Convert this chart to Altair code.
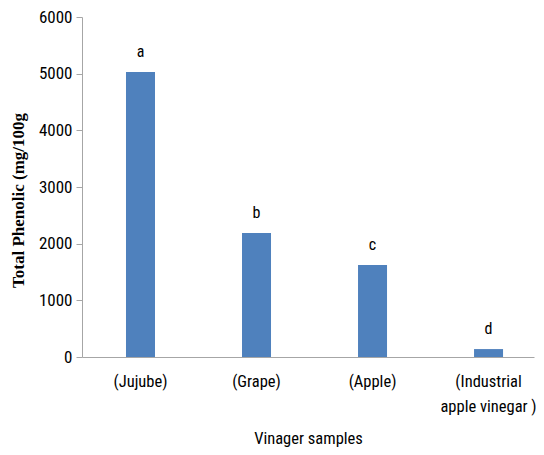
import altair as alt
import pandas as pd

samples = ["(Jujube)", "(Grape)", "(Apple)", "(Industrial apple vinegar )"]
phenolic = [5030, 2190, 1625, 140]
letters = ["a", "b", "c", "d"]

df = pd.DataFrame({"sample": samples, "value": phenolic, "letter": letters})

SANS = "Liberation Sans Narrow, Roboto Condensed, Open Sans, sans-serif"

x = alt.X(
    "sample:N",
    sort=samples,
    scale=alt.Scale(paddingInner=0.75, paddingOuter=0.323, align=0.587),
    axis=alt.Axis(
        title="Vinager samples",
        labelAngle=0,
        ticks=False,
        grid=False,
        domainColor="#A6A6A6",
        labelFont=SANS,
        labelFontSize=16.5,
        labelFontWeight="normal",
        labelColor="#000000",
        labelPadding=16,
        labelLineHeight=25,
        labelExpr="datum.label == '(Industrial apple vinegar )' ? ['(Industrial', 'apple vinegar )'] : datum.label",
        titleFont=SANS,
        titleFontSize=16.5,
        titleFontWeight="normal",
        titleColor="#000000",
        titleY=81,
        titleBaseline="middle",
    ),
)

y = alt.Y(
    "value:Q",
    scale=alt.Scale(domain=[0, 6000]),
    axis=alt.Axis(
        title="Total Phenolic (mg/100g",
        values=[0, 1000, 2000, 3000, 4000, 5000, 6000],
        format="d",
        grid=False,
        domainColor="#A6A6A6",
        tickColor="#A6A6A6",
        tickSize=6,
        labelFont=SANS,
        labelFontSize=17,
        labelColor="#000000",
        labelPadding=4,
        titleFont="Liberation Serif, Times New Roman, serif",
        titleFontSize=17,
        titleFontWeight="bold",
        titleColor="#000000",
        titleX=-64,
        titleY=183,
        titleAngle=-90,
        titleBaseline="middle",
        titleAlign="center",
    ),
)

bars = alt.Chart(df).mark_bar(color="#4F81BD").encode(x=x, y=y)
labels = alt.Chart(df).mark_text(
    dy=-20, baseline="middle", fontSize=16, font=SANS, color="#000000"
).encode(x=alt.X("sample:N", sort=samples), y="value:Q", text="letter:N")

chart = (
    alt.layer(bars, labels)
    .properties(
        width=452,
        height=340,
        autosize=alt.AutoSizeParams(type="none"),
        padding={"left": 74, "top": 9, "right": 2, "bottom": 90},
        background="white",
    )
    .configure_view(stroke=None)
)

chart.save("out.html", embed_options={"renderer": "svg", "actions": False})
